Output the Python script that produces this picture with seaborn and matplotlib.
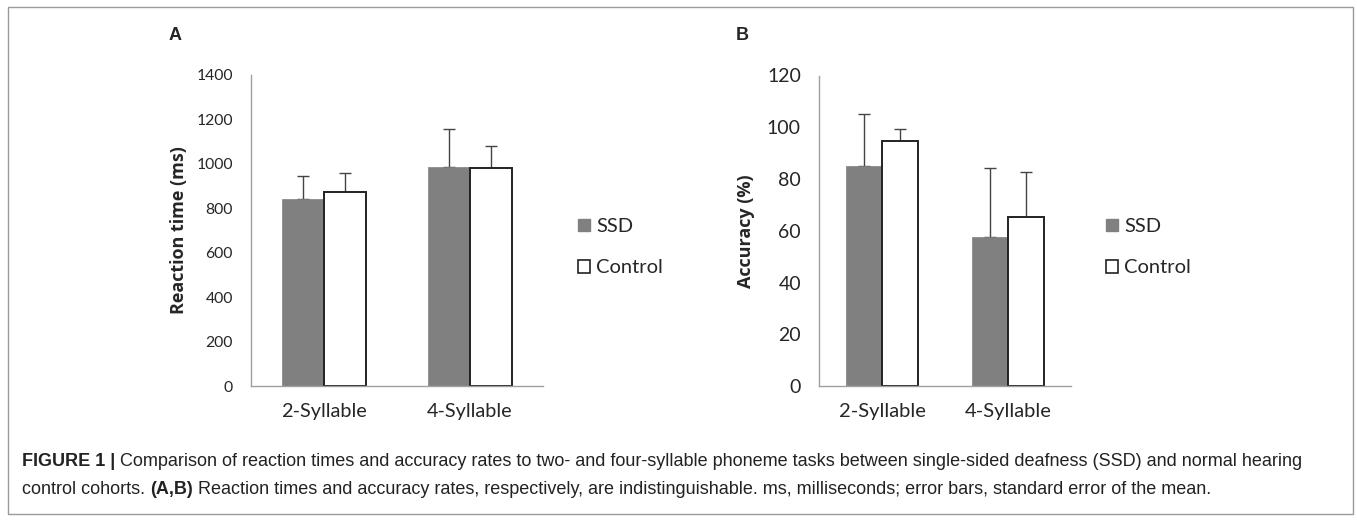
import numpy as np
import pandas as pd
import matplotlib
matplotlib.use("Agg")
import matplotlib.pyplot as plt
import matplotlib.patches as mpatches
from matplotlib import font_manager
import seaborn as sns

# data
categories = ["2-Syllable", "4-Syllable"]
groups = ["SSD", "Control"]

rt_ssd = [842, 986]
rt_ctrl = [872, 981]
rt_ssd_se = [105, 172]
rt_ctrl_se = [85, 101]

acc_ssd = [85.0, 57.7]
acc_ctrl = [94.8, 65.4]
acc_ssd_se = [20.0, 26.6]
acc_ctrl_se = [4.7, 17.4]

sns.set_style("white")
plt.rcParams['font.family'] = ['Lato', 'DejaVu Sans']

W, H = 1357, 521
fig = plt.figure(figsize=(W / 100, H / 100), dpi=100)

colors = {"SSD": "#808080", "Control": "#ffffff"}


def px_axes(x0, y0, x1, y1):
    return fig.add_axes([x0 / W, 1 - y1 / H, (x1 - x0) / W, (y1 - y0) / H])


def panel(ax, ssd, ctrl, ssd_se, ctrl_se, ymax, step, ylabel, ytick_fs, xtick_fs):
    df = pd.DataFrame({
        "cat": categories * 2,
        "group": ["SSD"] * 2 + ["Control"] * 2,
        "val": list(ssd) + list(ctrl),
    })
    sns.barplot(data=df, x="cat", y="val", hue="group", hue_order=groups,
                palette=colors, width=0.57, gap=0, errorbar=None,
                legend=False, ax=ax, saturation=1)
    # bars: first hue SSD then Control
    errs = list(ssd_se) + list(ctrl_se)
    for i, p in enumerate(ax.patches):
        if i < 2:
            p.set_edgecolor("#808080")
            p.set_linewidth(0.5)
        else:
            p.set_edgecolor("#222222")
            p.set_linewidth(1.4)
        xc = p.get_x() + p.get_width() / 2
        top = p.get_height()
        ax.errorbar(xc, top, yerr=[[0], [errs[i]]], fmt="none",
                    ecolor="#444444", elinewidth=1.0, capsize=4.5,
                    capthick=1.0, zorder=1)
        p.set_zorder(2)
    ax.set_xlim(-0.5, 1.5)
    ax.set_ylim(0, ymax)
    ax.set_yticks(np.arange(0, ymax + 1, step))
    ax.set_xticks([0, 1])
    ax.set_xticks([-0.5, 0.5, 1.5], minor=True)
    ax.set_xticklabels(categories, fontsize=xtick_fs)
    ax.tick_params(axis="x", which="major", length=0, pad=12)
    ax.tick_params(axis="x", which="minor", length=6, color="#999999", width=1, direction="out")
    ax.tick_params(axis="y", length=5, color="#999999", width=1, direction="out",
                   labelsize=ytick_fs, pad=8)
    ax.set_xlabel("")
    ax.set_ylabel(ylabel, fontsize=13, fontweight="bold",
                  family=["Open Sans", "DejaVu Sans"])
    for s in ["top", "right"]:
        ax.spines[s].set_visible(False)
    for s in ["left", "bottom"]:
        ax.spines[s].set_color("#a0a0a0")
        ax.spines[s].set_linewidth(1)


axA = px_axes(251, 75, 543, 386)
panel(axA, rt_ssd, rt_ctrl, rt_ssd_se, rt_ctrl_se, 1400, 200,
      "Reaction time (ms)", 11.3, 14.3)
axA.yaxis.set_label_coords(-0.216, 0.5)

axB = px_axes(819, 75.5, 1071, 386)
panel(axB, acc_ssd, acc_ctrl, acc_ssd_se, acc_ctrl_se, 120, 20,
      "Accuracy (%)", 14, 14.5)
axB.yaxis.set_label_coords(-0.254, 0.5)


def legend(x_px, y_px):
    handles = [mpatches.Patch(facecolor="#808080", edgecolor="#808080", label="SSD"),
               mpatches.Patch(facecolor="white", edgecolor="#222222", linewidth=1.2,
                              label="Control")]
    fig.legend(handles=handles, loc="upper left",
               bbox_to_anchor=(x_px / W, 1 - y_px / H), frameon=False,
               handlelength=0.6, handleheight=0.6, handletextpad=0.3,
               labelspacing=1.2, fontsize=14.5, borderaxespad=0)


legend(570, 210)
legend(1098, 210)

fig.text(175 / W, 1 - 35 / H, "A", fontsize=13, fontweight="bold",
         family="Liberation Sans", ha="center", va="center")
fig.text(742 / W, 1 - 35 / H, "B", fontsize=13, fontweight="bold",
         family="Liberation Sans", ha="center", va="center")

# caption with bold runs
avail = {f.name for f in font_manager.fontManager.ttflist}
cap_font = "Liberation Sans Narrow" if "Liberation Sans Narrow" in avail else "Liberation Sans"
lines = [
    [("FIGURE 1 | ", "bold"),
     ("Comparison of reaction times and accuracy rates to two- and four-syllable phoneme tasks between single-sided deafness (SSD) and normal hearing", "normal")],
    [("control cohorts. ", "normal"), ("(A,B)", "bold"),
     (" Reaction times and accuracy rates, respectively, are indistinguishable. ms, milliseconds; error bars, standard error of the mean.", "normal")],
]
renderer = fig.canvas.get_renderer()

# size the caption so the first line spans the same width as in the figure
probe = 10.0
total = 0
for txt, wt in lines[0]:
    t = fig.text(0, 0, txt, fontsize=probe, fontweight=wt, family=cap_font)
    total += t.get_window_extent(renderer=renderer).width
    t.remove()
cap_fs = probe * (1310 - 22) / total

for li, runs in enumerate(lines):
    x = 22
    y = 461 + li * 29
    for txt, wt in runs:
        t = fig.text(x / W, 1 - y / H, txt, fontsize=cap_fs, fontweight=wt,
                     family=cap_font, color="#222222", va="center", ha="left")
        x += t.get_window_extent(renderer=renderer).width

border = mpatches.Rectangle((8 / W, 1 - 514 / H), (1353 - 8) / W, (514 - 7) / H,
                            transform=fig.transFigure, fill=False,
                            edgecolor="#9a9a9a", linewidth=1)
fig.patches.append(border)

fig.savefig("out.png", dpi=100)
